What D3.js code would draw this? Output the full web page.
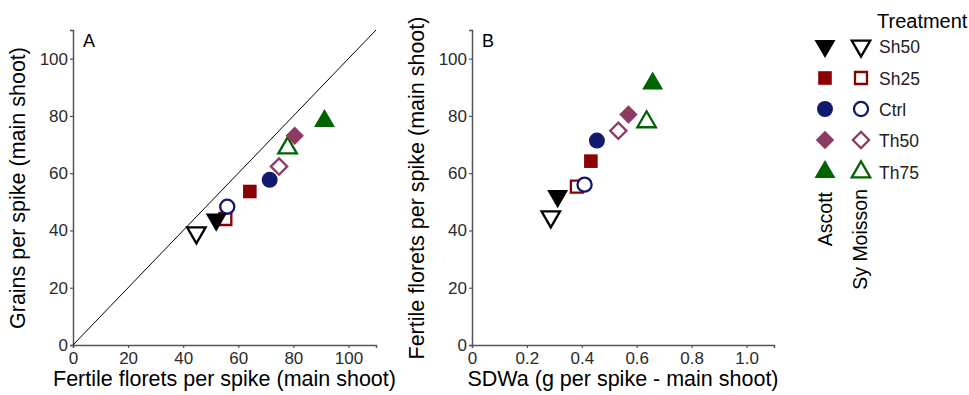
<!DOCTYPE html>
<html><head><meta charset="utf-8">
<script src="https://cdn.jsdelivr.net/npm/d3@7"></script>
<style>body{margin:0;background:#fff}svg{font-family:"Liberation Sans",Arial,sans-serif}</style>
</head><body><svg id="c" width="969" height="395"></svg>
<script>
const treatments = ["Sh50","Sh25","Ctrl","Th50","Th75"];
const colors = ["#000000","#8B0000","#111a6e","#8E3B63","#006400"];
const cultivars = ["Ascott","Sy Moisson"];
// fertile florets per spike (main shoot)
const floretsAscott = [52, 64.2, 71.4, 80.5, 91.3];
const floretsSyMoisson = [44.8, 55.3, 56, 74.8, 77.9];
// grains per spike (main shoot)
const grainsAscott = [43.8, 53.6, 57.7, 73.1, 78.2];
const grainsSyMoisson = [39.2, 44, 48.3, 62.3, 68.8];
// SDWa (g per spike - main shoot)
const sdwaAscott = [0.312, 0.433, 0.455, 0.57, 0.658];
const sdwaSyMoisson = [0.287, 0.382, 0.41, 0.533, 0.636];
const xTicksA = [0,20,40,60,80,100];
const xTicksB = [0,0.2,0.4,0.6,0.8,1.0];
const yTicks = [0,20,40,60,80,100];

const svg = d3.select("#c");
const shapeType = ["down","square","circle","diamond","up"];

function symPath(t, filled){
  const s = filled ? 1 : 0.78;
  if(t==="circle") return d3.symbol(d3.symbolCircle, 200*s)();
  if(t==="square") return d3.symbol(d3.symbolSquare, 185*s)();
  if(t==="diamond") return d3.symbol(d3.symbolSquare, 170*s)();
  return d3.symbol(d3.symbolTriangle, 190*s)();
}
function symRot(t){ return t==="down"?180:(t==="diamond"?45:0); }

function drawMark(g, x, y, i, filled){
  const t = shapeType[i];
  g.append("path").attr("d", symPath(t, filled))
   .attr("transform", `translate(${x},${y}) rotate(${symRot(t)})`)
   .attr("fill", filled ? colors[i] : "#fff")
   .attr("stroke", colors[i])
   .attr("stroke-width", filled ? 0 : 2.3);
}

function panel(xr, xDomain, xTicks, xFmt, xs1, xs2, ys1, ys2, label, xTitle, yTitle, yTitleX, diag){
  const x = d3.scaleLinear().domain(xDomain).range(xr);
  const y = d3.scaleLinear().domain([0,110]).range([345,30]);
  const g = svg.append("g");
  const ax = g.append("g").attr("transform","translate(0,345)")
    .call(d3.axisBottom(x).tickValues(xTicks).tickFormat(xFmt).tickSize(3).tickPadding(4));
  const ay = g.append("g").attr("transform",`translate(${xr[0]},0)`)
    .call(d3.axisLeft(y).tickValues(yTicks).tickSize(3).tickPadding(2));
  [ax,ay].forEach(a=>{
    a.select(".domain").attr("stroke","#555").attr("stroke-width",1.5);
    a.selectAll(".tick line").attr("stroke","#555").attr("stroke-width",1.2);
    a.selectAll(".tick text").attr("fill","#2b2b2b").style("font-size","17px").style("font-family","Liberation Sans, Arial, sans-serif");
  });
  if(diag){
    g.append("line").attr("x1",x(0)).attr("y1",y(0)).attr("x2",x(110)).attr("y2",y(110))
     .attr("stroke","#000").attr("stroke-width",1);
  }
  g.append("text").attr("x",xr[0]+10).attr("y",47).text(label).style("font-size","18px");
  g.append("text").attr("x",(xr[0]+xr[1])/2).attr("y",386).attr("text-anchor","middle")
   .style("font-size","21.5px").text(xTitle);
  g.append("text").attr("transform",`translate(${yTitleX},188) rotate(-90)`).attr("text-anchor","middle")
   .style("font-size","21.5px").text(yTitle);
  const mk = g.append("g");
  treatments.forEach((t,i)=>{ drawMark(mk, x(xs2[i]), y(ys2[i]), i, false); });
  treatments.forEach((t,i)=>{ drawMark(mk, x(xs1[i]), y(ys1[i]), i, true); });
}

panel([73,376],[0,110],xTicksA,d3.format("d"),floretsAscott,floretsSyMoisson,grainsAscott,grainsSyMoisson,
  "A","Fertile florets per spike (main shoot)","Grains per spike (main shoot)",25,true);
panel([472,774],[0,1.1],xTicksB,d=>d===0?"0":d3.format(".1f")(d),sdwaAscott,sdwaSyMoisson,floretsAscott,floretsSyMoisson,
  "B","SDWa (g per spike - main shoot)","Fertile florets per spike (main shoot)",424,false);

// legend
const lg = svg.append("g");
lg.append("text").attr("x",877).attr("y",28).style("font-size","20px").text("Treatment");
const rowY = [46,78,109,140,172];
treatments.forEach((t,i)=>{
  drawMark(lg, 825, rowY[i], i, true);
  drawMark(lg, 861, rowY[i], i, false);
  lg.append("text").attr("x",879).attr("y",rowY[i]+6.5).style("font-size","17.5px").attr("fill","#222").text(t);
});
const colX = [832, 867];
const colTop = [192, 189];
cultivars.forEach((c,j)=>{
  lg.append("text").attr("transform",`translate(${colX[j]},${colTop[j]}) rotate(-90)`).attr("text-anchor","end")
    .style("font-size","19.5px").text(c);
});
</script></body></html>
